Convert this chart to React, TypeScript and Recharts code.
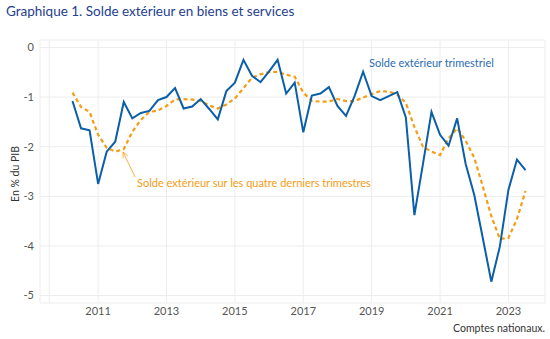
import { LineChart, Line, XAxis, YAxis, CartesianGrid, ReferenceLine } from 'recharts';

// Trimestres : 2010T2 -> 2023T3
const TRIMESTRES = [
  '2010T2', '2010T3', '2010T4',
  '2011T1', '2011T2', '2011T3', '2011T4',
  '2012T1', '2012T2', '2012T3', '2012T4',
  '2013T1', '2013T2', '2013T3', '2013T4',
  '2014T1', '2014T2', '2014T3', '2014T4',
  '2015T1', '2015T2', '2015T3', '2015T4',
  '2016T1', '2016T2', '2016T3', '2016T4',
  '2017T1', '2017T2', '2017T3', '2017T4',
  '2018T1', '2018T2', '2018T3', '2018T4',
  '2019T1', '2019T2', '2019T3', '2019T4',
  '2020T1', '2020T2', '2020T3', '2020T4',
  '2021T1', '2021T2', '2021T3', '2021T4',
  '2022T1', '2022T2', '2022T3', '2022T4',
  '2023T1', '2023T2', '2023T3',
];

// Solde extérieur trimestriel (en % du PIB)
const SOLDE_TRIMESTRIEL = [
  -1.08, -1.63, -1.67,
  -2.75, -2.1, -1.9, -1.1,
  -1.43, -1.32, -1.28, -1.06,
  -1.0, -0.82, -1.23, -1.19,
  -1.04, -1.24, -1.45, -0.88,
  -0.71, -0.25, -0.57, -0.7,
  -0.48, -0.25, -0.93, -0.71,
  -1.71, -0.97, -0.93, -0.8,
  -1.18, -1.38, -0.98, -0.49,
  -0.98, -1.06, -0.98, -0.9,
  -1.41, -3.38, -2.35, -1.3,
  -1.76, -1.98, -1.43, -2.35,
  -2.97, -3.84, -4.72, -4.01,
  -2.87, -2.26, -2.47,
];

// Solde extérieur sur les quatre derniers trimestres
const SOLDE_QUATRE_TRIM = [
  -0.91, -1.2, -1.3,
  -1.76, -2.02, -2.1, -2.05,
  -1.7, -1.46, -1.3, -1.27,
  -1.18, -1.05, -1.04, -1.05,
  -1.08, -1.17, -1.23, -1.15,
  -1.03, -0.82, -0.61, -0.54,
  -0.5, -0.49, -0.55, -0.59,
  -0.91, -1.08, -1.09, -1.09,
  -1.04, -1.08, -1.08, -1.01,
  -0.94, -0.88, -0.89, -0.95,
  -1.12, -1.6, -2.0, -2.1,
  -2.17, -1.83, -1.63, -1.88,
  -2.22, -2.8, -3.4, -3.86,
  -3.84, -3.46, -2.89,
];

const X_TICKS = [2011, 2013, 2015, 2017, 2019, 2021, 2023];
const Y_TICKS = [0, -1, -2, -3, -4, -5];

const BLEU = '#0b5ea8';
const ORANGE = '#f59d14';
const FONT = 'Lato, "Noto Sans", sans-serif';

// année décimale à partir du libellé trimestriel
const toYear = (label: string) => {
  const [y, q] = label.split('T');
  return Number(y) + (Number(q) - 1) / 4;
};

const data = TRIMESTRES.map((t, i) => ({
  t: toYear(t),
  trim: SOLDE_TRIMESTRIEL[i],
  quatre: SOLDE_QUATRE_TRIM[i],
}));

// flèche de l'annotation orange
const Fleche = (props: any) => {
  const { x1, y1, x2, y2 } = props;
  const ang = Math.atan2(y2 - y1, x2 - x1);
  const L = 6;
  const a1 = ang + Math.PI - 0.45;
  const a2 = ang + Math.PI + 0.45;
  return (
    <g>
      <line x1={x1} y1={y1} x2={x2} y2={y2} stroke={ORANGE} strokeWidth={0.8} />
      <polyline
        points={`${x2 + L * Math.cos(a1)},${y2 + L * Math.sin(a1)} ${x2},${y2} ${x2 + L * Math.cos(a2)},${y2 + L * Math.sin(a2)}`}
        fill="none"
        stroke={ORANGE}
        strokeWidth={0.8}
      />
    </g>
  );
};

export default function App() {
  return (
    <div style={{ position: 'relative', width: 550, height: 339, background: '#fff', fontFamily: FONT }}>
      <style>{'body{margin:0}'}</style>

      <div style={{ position: 'absolute', left: 6, top: 3, fontSize: 13.5, color: '#23408e', whiteSpace: 'nowrap' }}>
        Graphique 1. Solde extérieur en biens et services
      </div>

      <LineChart width={550} height={339} data={data} margin={{ top: 40, right: 5, bottom: 0, left: 0 }}>
        <CartesianGrid stroke="#ededed" strokeWidth={1} />
        <ReferenceLine x={2009.57} stroke="#ededed" />
        <XAxis
          dataKey="t"
          type="number"
          domain={[2009.3, 2024.07]}
          ticks={X_TICKS}
          allowDataOverflow
          axisLine={false}
          tickLine={false}
          tickSize={0}
          tickMargin={4}
          height={36}
          tick={{ fontSize: 11, fill: '#555', fontFamily: FONT }}
        />
        <YAxis
          type="number"
          domain={[-5.15, 0.15]}
          ticks={Y_TICKS}
          allowDataOverflow
          axisLine={false}
          tickLine={false}
          tickSize={0}
          tickMargin={6}
          width={40}
          tick={{ fontSize: 11, fill: '#555', fontFamily: FONT }}
        />
        <Line
          type="linear"
          dataKey="quatre"
          stroke={ORANGE}
          strokeWidth={2.2}
          strokeDasharray="4 3"
          dot={false}
          isAnimationActive={false}
        />
        <Line
          type="linear"
          dataKey="trim"
          stroke={BLEU}
          strokeWidth={2}
          dot={false}
          isAnimationActive={false}
        />
        <ReferenceLine
          segment={[{ x: 2012.08, y: -2.61 }, { x: 2011.73, y: -2.11 }]}
          shape={Fleche}
        />
      </LineChart>

      <div
        style={{
          position: 'absolute',
          left: 15,
          top: 174,
          fontSize: 10.5,
          color: '#333',
          whiteSpace: 'nowrap',
          transform: 'translate(-50%, -50%) rotate(-90deg)',
        }}
      >
        En % du PIB
      </div>
      <div style={{ position: 'absolute', left: 369, top: 56, fontSize: 11, color: '#2a6db2', whiteSpace: 'nowrap' }}>
        Solde extérieur trimestriel
      </div>
      <div style={{ position: 'absolute', left: 137, top: 176, fontSize: 11, color: ORANGE, whiteSpace: 'nowrap' }}>
        Solde extérieur sur les quatre derniers trimestres
      </div>
      <div style={{ position: 'absolute', right: 5, top: 322, fontSize: 10.5, color: '#333', whiteSpace: 'nowrap' }}>
        Comptes nationaux.
      </div>
    </div>
  );
}
